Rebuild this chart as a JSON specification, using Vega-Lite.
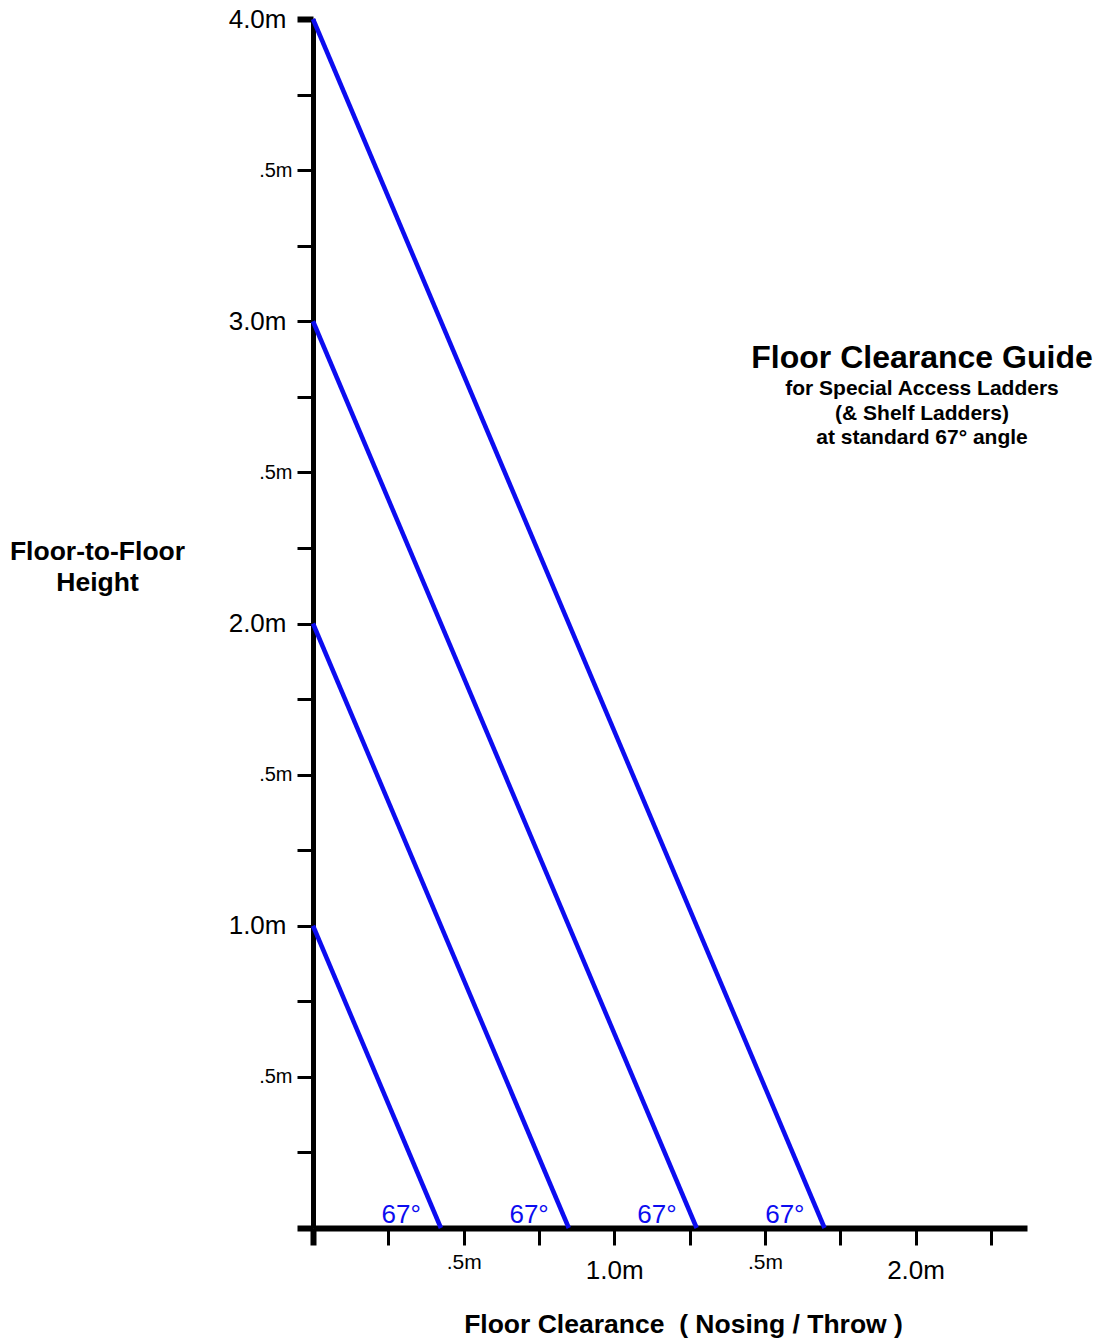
{
  "$schema": "https://vega.github.io/schema/vega-lite/v6.json",
  "width": 714,
  "height": 1209,
  "autosize": {"type": "none"},
  "padding": {"left": 313, "top": 19, "right": 67, "bottom": 114},
  "background": "white",
  "config": {"view": {"stroke": null}, "font": "Liberation Sans"},
  "title": {
    "text": "Floor Clearance Guide",
    "subtitle": ["for Special Access Ladders", "(& Shelf Ladders)", "at standard 67° angle"],
    "anchor": "middle",
    "frame": "group",
    "dx": 252,
    "dy": 447,
    "fontSize": 32,
    "fontWeight": "bold",
    "color": "black",
    "subtitleFontSize": 21,
    "subtitleFontWeight": "bold",
    "subtitleColor": "black",
    "subtitleLineHeight": 24.5,
    "subtitlePadding": 3
  },
  "data": {
    "values": [
      {"ladder": "1.0m", "clearance": 0, "height": 1},
      {"ladder": "1.0m", "clearance": 0.4245, "height": 0},
      {"ladder": "2.0m", "clearance": 0, "height": 2},
      {"ladder": "2.0m", "clearance": 0.849, "height": 0},
      {"ladder": "3.0m", "clearance": 0, "height": 3},
      {"ladder": "3.0m", "clearance": 1.2734, "height": 0},
      {"ladder": "4.0m", "clearance": 0, "height": 4},
      {"ladder": "4.0m", "clearance": 1.6979, "height": 0}
    ]
  },
  "layer": [
    {
      "mark": {"type": "line", "color": "#0c0cf0", "strokeWidth": 4.5},
      "encoding": {
        "x": {
          "field": "clearance",
          "type": "quantitative",
          "scale": {"domain": [0, 2.37], "nice": false},
          "axis": {
            "values": [0, 0.25, 0.5, 0.75, 1, 1.25, 1.5, 1.75, 2, 2.25],
            "labelExpr": "datum.value == 0 ? '' : (datum.value % 1 == 0 ? format(datum.value, '.1f') + 'm' : (datum.value % 0.5 == 0 ? '.5m' : ''))",
            "grid": false,
            "domainColor": "black",
            "domainWidth": 6,
            "tickColor": "black",
            "tickSize": 17,
            "tickWidth": {"condition": {"test": "datum.value == 0", "value": 6}, "value": 3},
            "labelColor": "black",
            "labelFontSize": {"condition": {"test": "datum.value % 1 == 0", "value": 26}, "value": 21},
            "labelPadding": {"condition": {"test": "datum.value % 1 == 0", "value": 12}, "value": 6},
            "labelFlush": false,
            "labelOverlap": false,
            "title": "Floor Clearance \u00a0( Nosing / Throw )",
            "titleFontSize": 26.5,
            "titleFontWeight": "bold",
            "titleColor": "black",
            "titleX": 370,
            "titleY": 96,
            "titleAlign": "center",
            "titleBaseline": "middle"
          }
        },
        "y": {
          "field": "height",
          "type": "quantitative",
          "scale": {"domain": [0, 4], "nice": false},
          "axis": {
            "values": [0, 0.25, 0.5, 0.75, 1, 1.25, 1.5, 1.75, 2, 2.25, 2.5, 2.75, 3, 3.25, 3.5, 3.75, 4],
            "labelExpr": "datum.value == 0 ? '' : (datum.value % 1 == 0 ? format(datum.value, '.1f') + 'm' : (datum.value % 0.5 == 0 ? '.5m' : ''))",
            "grid": false,
            "domainColor": "black",
            "domainWidth": 5,
            "tickColor": "black",
            "tickSize": 16,
            "tickWidth": {"condition": {"test": "datum.value == 0 || datum.value == 4", "value": 6}, "value": 3},
            "labelColor": "black",
            "labelFontSize": {"condition": {"test": "datum.value % 1 == 0", "value": 26}, "value": 20},
            "labelPadding": {"condition": {"test": "datum.value % 1 == 0", "value": 11}, "value": 5},
            "labelFlush": false,
            "labelOverlap": false,
            "title": ["Floor-to-Floor", "Height"],
            "titleFontSize": 26.5,
            "titleFontWeight": "bold",
            "titleColor": "black",
            "titleAngle": 0,
            "titleX": -216,
            "titleY": 532,
            "titleAlign": "center",
            "titleBaseline": "middle",
            "titleLineHeight": 31
          }
        },
        "detail": {"field": "ladder", "type": "nominal"}
      }
    },
    {
      "transform": [{"filter": "datum.height == 0"}],
      "mark": {"type": "text", "text": "67°", "color": "#0c0cf0", "fontSize": 26, "align": "right", "baseline": "alphabetic", "dx": -20, "dy": -5},
      "encoding": {
        "x": {"field": "clearance", "type": "quantitative"},
        "y": {"field": "height", "type": "quantitative"}
      }
    }
  ]
}
